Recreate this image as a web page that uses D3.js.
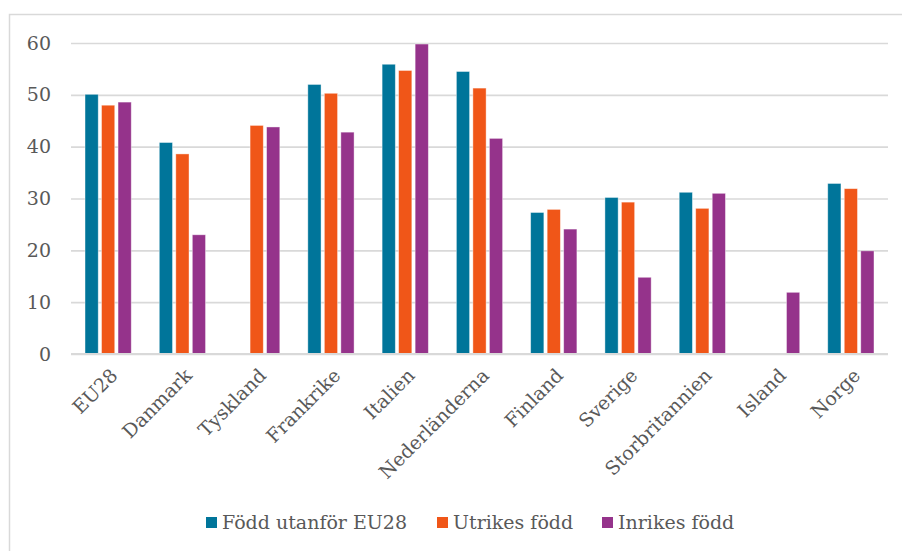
<!DOCTYPE html>
<html>
<head>
<meta charset="utf-8">
<script src="https://cdn.jsdelivr.net/npm/d3@7"></script>
<style>
  html, body { margin: 0; padding: 0; background: #fff; }
  svg { display: block; }
  text { font-family: "DejaVu Serif", serif; fill: #595959; }
</style>
</head>
<body>
<svg id="chart" width="902" height="551"></svg>
<script>
const categories = ["EU28", "Danmark", "Tyskland", "Frankrike", "Italien", "Nederländerna", "Finland", "Sverige", "Storbritannien", "Island", "Norge"];
const seriesNames = ["Född utanför EU28", "Utrikes född", "Inrikes född"];
const seriesColors = ["#00759A", "#F05618", "#95338B"];
const foddUtanforEU28 = [50.1, 40.8, null, 52.0, 55.9, 54.5, 27.3, 30.2, 31.2, null, 32.9];
const utrikesFodd     = [48.0, 38.6, 44.1, 50.3, 54.7, 51.3, 27.9, 29.3, 28.1, null, 31.9];
const inrikesFodd     = [48.6, 23.0, 43.8, 42.8, 59.8, 41.6, 24.1, 14.8, 31.0, 11.9, 19.9];
const yTicks = [0, 10, 20, 30, 40, 50, 60];

const seriesValues = [foddUtanforEU28, utrikesFodd, inrikesFodd];

const svg = d3.select("#chart");

// outer chart border
svg.append("rect")
  .attr("x", 9.5).attr("y", 14.5)
  .attr("width", 1000).attr("height", 1000)
  .attr("fill", "#fff").attr("stroke", "#d9d9d9").attr("stroke-width", 1.5);

const plotLeft = 71, plotRight = 888;
const y = d3.scaleLinear().domain([0, 60]).range([354, 43]);
const x0 = d3.scaleBand().domain(categories).range([plotLeft, plotRight]).padding(0);
const x1 = d3.scaleBand().domain(seriesNames).range([0, x0.bandwidth() * 0.667])
  .paddingInner(0.2).paddingOuter(0.1);
const groupOffset = (x0.bandwidth() - x0.bandwidth() * 0.667) / 2;

// gridlines
const yAxis = d3.axisLeft(y).tickValues(yTicks).tickSize(-(plotRight - plotLeft)).tickPadding(20);
const gy = svg.append("g").attr("transform", `translate(${plotLeft},0)`).call(yAxis);
gy.select(".domain").remove();
gy.selectAll(".tick line").attr("stroke", "#d9d9d9").attr("stroke-width", 1.6);
gy.selectAll(".tick text")
  .attr("x", -20)
  .style("font-size", "19px").style("font-family", "DejaVu Serif, serif").attr("fill", "#595959");

// bars
const data = [];
categories.forEach((c, i) => {
  seriesNames.forEach((s, j) => {
    const v = seriesValues[j][i];
    if (v !== null && v !== undefined) data.push({ c, s, j, v });
  });
});

svg.append("g").selectAll("rect")
  .data(data).join("rect")
  .attr("x", d => x0(d.c) + groupOffset + x1(d.s))
  .attr("width", x1.bandwidth())
  .attr("y", d => y(d.v))
  .attr("height", d => y(0) - y(d.v))
  .attr("fill", d => seriesColors[d.j])
  .attr("stroke", "#fff").attr("stroke-opacity", 0.5).attr("stroke-width", 0.8);

// zero line on top
svg.append("line")
  .attr("x1", plotLeft).attr("x2", plotRight)
  .attr("y1", y(0)).attr("y2", y(0))
  .attr("stroke", "#d9d9d9").attr("stroke-width", 1.8);

// x axis labels
const xAxis = d3.axisBottom(x0).tickSize(0).tickPadding(0);
const gx = svg.append("g").attr("transform", `translate(0,${y(0)})`).call(xAxis);
gx.select(".domain").remove();
gx.selectAll(".tick text")
  .attr("text-anchor", "end")
  .attr("transform", "translate(6,18) rotate(-45)")
  .attr("x", 0).attr("y", 0).attr("dy", "0.35em")
  .style("font-size", "19px").style("font-family", "DejaVu Serif, serif").attr("fill", "#595959");

// legend
const legendItems = [
  { name: seriesNames[0], color: seriesColors[0], x: 206 },
  { name: seriesNames[1], color: seriesColors[1], x: 437 },
  { name: seriesNames[2], color: seriesColors[2], x: 602 }
];
const lg = svg.append("g");
legendItems.forEach(it => {
  lg.append("rect").attr("x", it.x).attr("y", 517).attr("width", 11).attr("height", 11).attr("fill", it.color);
  lg.append("text").attr("x", it.x + 16).attr("y", 529)
    .style("font-size", "19px").text(it.name);
});
</script>
</body>
</html>
